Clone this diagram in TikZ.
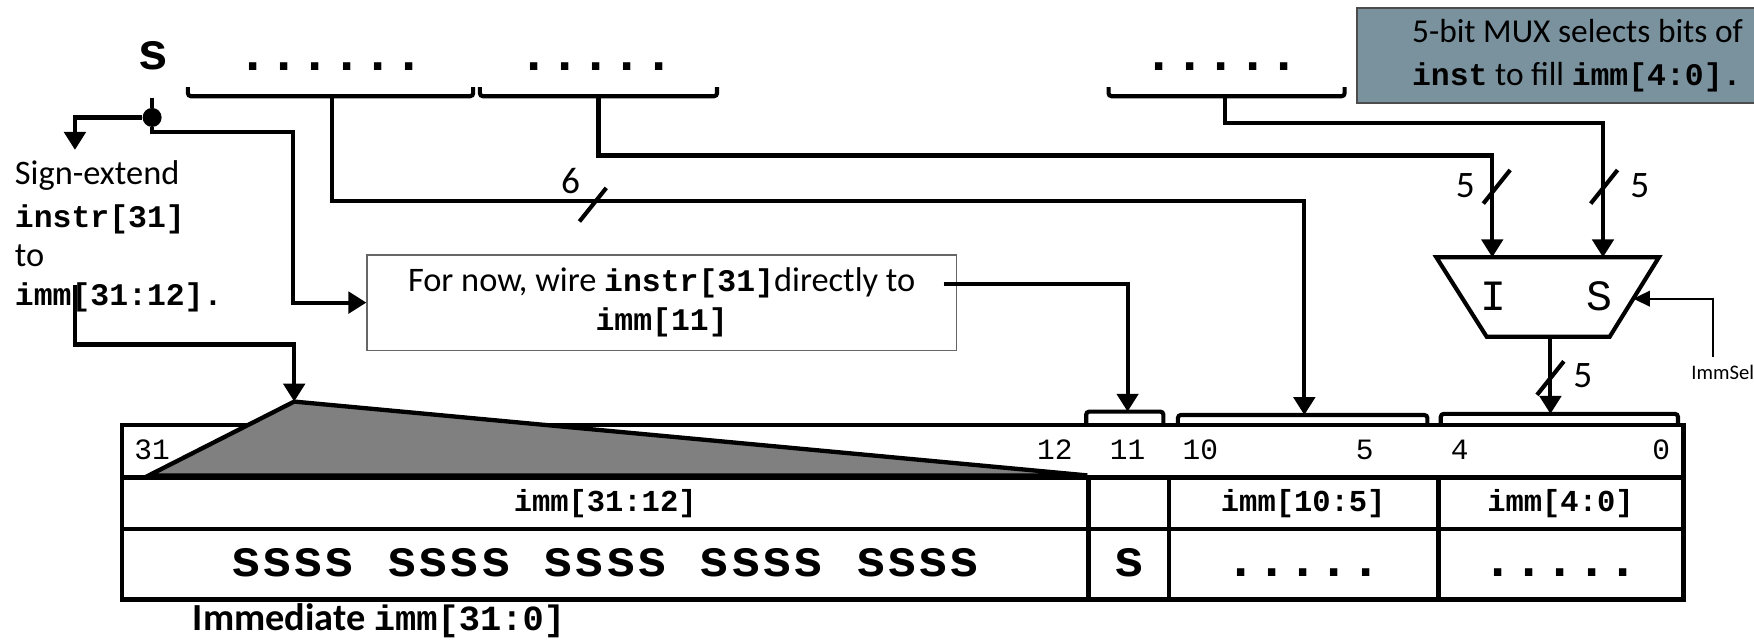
\documentclass[tikz,border=0pt]{standalone}
\usepackage{fontspec}
\setmainfont{Carlito}
\setmonofont{Liberation Mono}
\usepackage{tikz}
\usetikzlibrary{
    arrows.meta,
    positioning,
    calc
}

\definecolor{notegray}{RGB}{122, 145, 158}
\definecolor{wedgegray}{RGB}{128, 128, 128}

\newcommand{\code}[2][16]{{\fontsize{#1}{20}\selectfont\ttfamily\bfseries #2}}

\tikzset{
    wire/.style={line width=2.1pt},
    arr/.style={wire, -{Triangle[length=0.32cm, width=0.38cm]}},
    cell/.style={line width=2.2pt},
    sans/.style={inner sep=0pt, font=\fontsize{17.5}{20}\selectfont},
    bigmono/.style={inner sep=0pt, anchor=base, font=\fontsize{26.5}{30}\selectfont\ttfamily\bfseries},
    bitnum/.style={inner sep=0pt, anchor=base, font=\fontsize{15}{18}\selectfont\ttfamily},
    fieldname/.style={inner sep=0pt, font=\fontsize{15.5}{18}\selectfont\ttfamily\bfseries},
    buslabel/.style={inner sep=0pt, font=\fontsize{19}{22}\selectfont}
}

\begin{document}
\begin{tikzpicture}[x=0.02cm, y=-0.02cm]
            \useasboundingbox (0,0) rectangle (1568,574);

            % MUX note
            \draw[fill=notegray, draw=black!70, line width=0.8pt] (1213,7) rectangle (1600,92);
            \node[sans, anchor=west, align=left, font=\fontsize{17}{22}\selectfont] (muxnote) at (1262,49.5)
                {5-bit MUX selects bits of\\\code{inst} to fill \code{imm[4:0].}};

            % instruction bits
            \node[bigmono] (signbit) at (137,62) {s};
            \node[bigmono] (dotsA) at (296,63) {......};
            \node[bigmono] (dotsB) at (533,63) {.....};
            \node[bigmono] (dotsC) at (1092,63) {.....};
            \draw[wire, rounded corners=1.5pt] (168,78) -- (168,86) -- (423,86) -- (423,78);
            \draw[wire, rounded corners=1.5pt] (429,78) -- (429,86) -- (641,86) -- (641,78);
            \draw[wire, rounded corners=1.5pt] (991,78) -- (991,86) -- (1202,86) -- (1202,78);
            \coordinate (fieldA) at (297,86);
            \coordinate (fieldB) at (535,86);
            \coordinate (fieldC) at (1095,86);

            % sign bit fan-out
            \node[circle, fill, inner sep=0pt, minimum size=0.34cm] (fanout) at (136,105) {};
            \draw[wire] (fanout) -- ++(0,-17);
            \coordinate (signtip) at (67,134);
            \draw[arr] (fanout.west) -| (signtip);

            % sign-extend text
            \node[sans, anchor=base west] (sx1) at (13,165) {Sign-extend};
            \node[inner sep=0pt, anchor=base west] (sx2) at (13,203) {\code{instr[31]}};
            \node[sans, anchor=base west] (sx3) at (13,238) {to};
            \node[inner sep=0pt, anchor=base west] (sx4) at (13,273) {\code{imm[31:12].}};
            \coordinate (immsrc) at (67,255);

            % note on bit 11
            \node[draw=black!60, line width=0.6pt, minimum width=10.54cm, minimum height=1.7cm,
                align=center, font=\fontsize{17.5}{20}\selectfont] (nowbox) at (591.5,270.5)
                {For now, wire \code{instr[31]}directly to\\\code{imm[11]}};
            \draw[arr] (fanout) |- (262,118) |- (nowbox.west);

            % MUX
            \draw[wire, fill=white] (1284,230) -- (1483,230) -- (1439,301) -- (1329,301) -- cycle;
            \node[inner sep=0pt, font=\fontsize{22}{24}\selectfont\ttfamily] (selI) at (1335,265) {I};
            \node[inner sep=0pt, font=\fontsize{22}{24}\selectfont\ttfamily] (selS) at (1430,265) {S};
            \coordinate (muxI) at (1334,230);
            \coordinate (muxS) at (1433,230);
            \coordinate (muxO) at (1386,301);
            \coordinate (muxR) at (1460,267);
            \node[inner sep=0pt, font=\fontsize{10.5}{12}\selectfont] (immsel) at (1540,333) {ImmSel};
            \coordinate (selin) at (1531,319);
            \draw[line width=0.9pt, -{Triangle[length=0.3cm, width=0.28cm]}] (selin) |- (muxR);

            % immediate table
            \draw[cell] (109,380) rectangle (1505,536);
            \draw[cell] (109,427) -- (1505,427);
            \draw[cell] (109,473) -- (1505,473);
            \draw[cell] (973,427) -- (973,536);
            \draw[cell] (1045,427) -- (1045,536);
            \draw[cell] (1286,427) -- (1286,536);
            \draw[wire, rounded corners=1.5pt] (971,378) -- (971,368) -- (1040,368) -- (1040,378);
            \draw[wire, rounded corners=1.5pt] (1053,380) -- (1053,371) -- (1276,371) -- (1276,380);
            \draw[wire, rounded corners=1.5pt] (1288,381) -- (1288,370) -- (1500,370) -- (1500,381);
            \coordinate (tp11) at (1008,368);
            \coordinate (tp105) at (1166,371);
            \coordinate (tp40) at (1386,370);

            % sign-extension wedge
            \draw[cell, fill=wedgegray] (133,425) -- (263,359) -- (972,425) -- cycle;
            \coordinate (apex) at (263,359);

            \node[bitnum] (n31) at (136,411) {31};
            \node[bitnum] (n12) at (943,411) {12};
            \node[bitnum] (n11) at (1008,411) {11};
            \node[bitnum] (n10) at (1073,411) {10};
            \node[bitnum] (n5) at (1220,411) {5};
            \node[bitnum] (n4) at (1305,411) {4};
            \node[bitnum] (n0) at (1485,411) {0};

            \node[fieldname] (f3112) at (541,450) {imm[31:12]};
            \node[fieldname] (f105) at (1165,450) {imm[10:5]};
            \node[fieldname] (f40) at (1395,450) {imm[4:0]};

            \node[bigmono] (sext) at (541,515) {ssss ssss ssss ssss ssss};
            \node[bigmono] (s11) at (1009,515) {s};
            \node[bigmono] (v105) at (1165,515) {.....};
            \node[bigmono] (v40) at (1395,515) {.....};

            \node[inner sep=0pt, anchor=base west, font=\fontsize{19.5}{22}\selectfont\bfseries] (caption) at (172,564)
                {Immediate \code[18]{imm[31:0]}};

            % wiring
            \draw[arr] (immsrc) |- (263,308) -- (apex);
            \draw[arr] (fieldA) -- (297,180) -| (tp105);
            \draw[arr] (fieldB) -- (535,139) -| (muxI);
            \draw[arr] (fieldC) -- (1095,110) -| (muxS);
            \draw[arr] ($(nowbox.east)+(-12,-17)$) -| (tp11);
            \draw[arr] (muxO) -- (tp40);

            % bus widths
            \draw[wire] (518,198) -- (542,168);
            \node[buslabel] (w6) at (510,162) {6};
            \draw[wire] (1326,182) -- (1350,152);
            \node[buslabel] (w5a) at (1310,166) {5};
            \draw[wire] (1422,182) -- (1446,152);
            \node[buslabel] (w5b) at (1466,166) {5};
            \draw[wire] (1374,353) -- (1398,323);
            \node[buslabel] (w5c) at (1415,336) {5};
        \end{tikzpicture}
\end{document}
